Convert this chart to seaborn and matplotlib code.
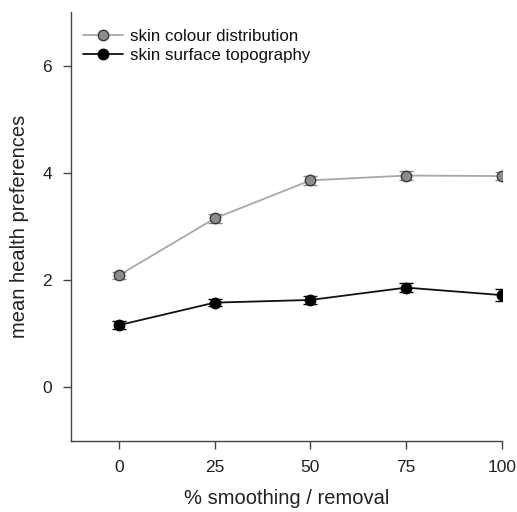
import matplotlib
matplotlib.use("Agg")
import matplotlib.pyplot as plt
import seaborn as sns
import pandas as pd

smoothing = [0, 25, 50, 75, 100]
colour_mean = [2.09, 3.15, 3.86, 3.95, 3.94]
colour_err = [0.07, 0.08, 0.08, 0.09, 0.08]
topo_mean = [1.16, 1.58, 1.63, 1.86, 1.72]
topo_err = [0.07, 0.07, 0.08, 0.09, 0.11]
series_names = ["skin colour distribution", "skin surface topography"]
y_ticks = [0, 2, 4, 6]

sns.set_theme(style="ticks")
plt.rcParams["font.family"] = ["Liberation Sans", "DejaVu Sans"]

fig = plt.figure(figsize=(5.17, 5.12), dpi=100)
ax = fig.add_axes([0.1373, 0.1387, 0.9710 - 0.1373, 0.9766 - 0.1387])

df = pd.DataFrame({
    "x": smoothing * 2,
    "y": colour_mean + topo_mean,
    "series": [series_names[0]] * 5 + [series_names[1]] * 5,
})

styles = {
    series_names[0]: dict(line="#a8a8a8", face="#8c8c8c", edge="#3a3a3a", err="#888888", errs=colour_err, means=colour_mean),
    series_names[1]: dict(line="#111111", face="#000000", edge="#000000", err="#000000", errs=topo_err, means=topo_mean),
}

for name in series_names:
    st = styles[name]
    sub = df[df["series"] == name]
    ax.errorbar(sub["x"], st["means"], yerr=st["errs"], fmt="none",
                ecolor=st["err"], elinewidth=1.0, capsize=5, capthick=1.0, zorder=2)
    sns.lineplot(data=sub, x="x", y="y", ax=ax, color=st["line"], linewidth=1.3,
                 marker="o", markersize=7.5, markerfacecolor=st["face"],
                 markeredgecolor=st["edge"], markeredgewidth=1.0, label=name,
                 zorder=3, errorbar=None)

ax.set_xlim(-12.5, 100)
ax.set_ylim(-1, 7)
ax.set_xticks(smoothing)
ax.set_yticks(y_ticks)
ax.set_xlabel("% smoothing / removal", fontsize=14.5, color="#222222", labelpad=10)
ax.set_ylabel("mean health preferences", fontsize=14.5, color="#222222", labelpad=10)
ax.tick_params(axis="both", labelsize=12.5, colors="#444444", labelcolor="#222222",
               length=5.5, width=1)
ax.tick_params(axis="x", pad=8)
ax.tick_params(axis="y", pad=8)
for s in ["top", "right"]:
    ax.spines[s].set_visible(False)
for s in ["left", "bottom"]:
    ax.spines[s].set_color("#444444")
    ax.spines[s].set_linewidth(1)

leg = ax.legend(loc="upper left", frameon=False, fontsize=12.2, handlelength=2.35,
                handletextpad=0.45, borderaxespad=0.0, labelspacing=0.25,
                bbox_to_anchor=(0.012, 0.976))
for t in leg.get_texts():
    t.set_color("#111111")

fig.savefig("out.png", dpi=100)
